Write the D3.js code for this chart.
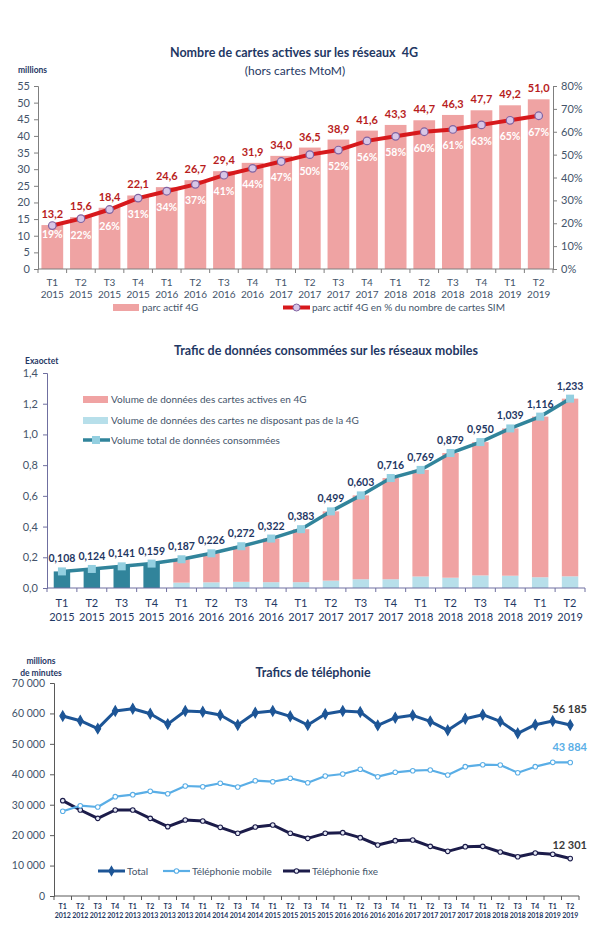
<!DOCTYPE html>
<html>
<head>
<meta charset="utf-8">
<script src="https://cdn.jsdelivr.net/npm/d3@7"></script>
<style>
  body { margin: 0; background: #fff; }
  svg text { font-family: Lato, "Open Sans", sans-serif; white-space: pre; }
</style>
</head>
<body>
<div class="container"></div>
<script>
// --- chart 1 : cartes 4G
var quarters1 = ["T1","T2","T3","T4","T1","T2","T3","T4","T1","T2","T3","T4","T1","T2","T3","T4","T1","T2"];
var years1 = ["2015","2015","2015","2015","2016","2016","2016","2016","2017","2017","2017","2017","2018","2018","2018","2018","2019","2019"];
var parc4g = [13.2,15.6,18.4,22.1,24.6,26.7,29.4,31.9,34.0,36.5,38.9,41.6,43.3,44.7,46.3,47.7,49.2,51.0];
var pct4g = [19,22,26,31,34,37,41,44,47,50,52,56,58,60,61,63,65,67];
var ticks1L = [0,5,10,15,20,25,30,35,40,45,50,55];
var ticks1R = [0,10,20,30,40,50,60,70,80];

// --- chart 2 : trafic de donnees
var total2 = [0.108,0.124,0.141,0.159,0.187,0.226,0.272,0.322,0.383,0.499,0.603,0.716,0.769,0.879,0.950,1.039,1.116,1.233];
var vol2015 = [0.108,0.124,0.141,0.159,null,null,null,null,null,null,null,null,null,null,null,null,null,null];
var volNon4g = [null,null,null,null,0.035,0.037,0.040,0.038,0.038,0.048,0.057,0.057,0.075,0.067,0.082,0.080,0.070,0.076];
var vol4g = [null,null,null,null,0.152,0.189,0.232,0.284,0.345,0.451,0.546,0.659,0.694,0.812,0.868,0.959,1.046,1.157];
var ticks2 = [0,0.2,0.4,0.6,0.8,1.0,1.2,1.4];

// --- chart 3 : telephonie
var quarters3 = [], years3 = [];
["2012","2013","2014","2015","2016","2017","2018","2019"].forEach(function(y){
  ["T1","T2","T3","T4"].forEach(function(q){ quarters3.push(q); years3.push(y); });
});
quarters3 = quarters3.slice(0,30); years3 = years3.slice(0,30);
var totalTel = [59150,57600,55000,60800,61550,59900,56500,60800,60570,59480,56200,60240,60800,59050,56200,59800,60800,60470,56070,58600,59380,57400,54450,58270,59580,57400,53470,56300,57510,56185];
var mobileTel = [27830,29680,29250,32640,33300,34400,33620,36150,35920,37040,35820,37890,37560,38680,37240,39440,40090,41640,39210,40650,41180,41410,39770,42500,43150,43050,40520,42500,43930,43884];
var fixeTel = [31330,28260,25520,28260,28260,25520,22790,24980,24650,22570,20600,22680,23330,20600,18950,20600,20810,19170,16760,18180,18400,16320,14680,16210,16320,14460,12920,14130,13700,12301];
var ticks3 = [0,10000,20000,30000,40000,50000,60000,70000];

var navy = "#1f3864", slate = "#44546a";
var fr = function(v, n){ return v.toFixed(n).replace(".", ","); };
var sp = function(v){ return d3.format(",")(v).replace(/,/g, " "); };

var svg = d3.select(".container").append("svg")
  .attr("width", 601)
  .attr("height", 935);

// ================= chart 1
var g1 = svg.append("g");
var idx1 = d3.range(parc4g.length);
var x1 = d3.scaleBand().domain(idx1).range([38, 553]);
var y1 = d3.scaleLinear().domain([0,55]).range([269, 86]);
var y1r = d3.scaleLinear().domain([0,80]).range([269, 86]);

g1.append("text").attr("x", 294).attr("y", 57).attr("text-anchor","middle")
  .attr("font-size", 12.5).attr("font-weight","bold").attr("fill", navy)
  .text("Nombre de cartes actives sur les réseaux\u00a0 4G");
g1.append("text").attr("x", 295).attr("y", 75).attr("text-anchor","middle")
  .attr("font-size", 12).attr("fill", navy).text("(hors cartes MtoM)");
g1.append("text").attr("x", 18).attr("y", 73).attr("font-size", 8.5)
  .attr("font-weight","bold").attr("fill", navy).text("millions");

var bw1 = x1.bandwidth()*0.76;
g1.selectAll("rect.bar").data(parc4g).enter().append("rect")
  .attr("class","bar")
  .attr("x", function(d,i){ return x1(i) + (x1.bandwidth()-bw1)/2; })
  .attr("width", bw1)
  .attr("y", function(d){ return y1(d); })
  .attr("height", function(d){ return y1(0) - y1(d); })
  .attr("fill", "#efa3a3");

// axes
var axL1 = g1.append("g").attr("transform","translate(38,0)")
  .call(d3.axisLeft(y1).tickValues(ticks1L).tickSize(4).tickPadding(4));
var axR1 = g1.append("g").attr("transform","translate(553,0)")
  .call(d3.axisRight(y1r).tickValues(ticks1R).tickSize(4).tickPadding(4).tickFormat(function(d){ return d + "%"; }));
[axL1, axR1].forEach(function(a){
  a.select(".domain").attr("stroke","#7f7f7f");
  a.selectAll(".tick line").attr("stroke","#7f7f7f");
  a.selectAll("text").attr("font-size", 11).attr("fill", slate).attr("font-family","Lato, sans-serif");
});
g1.append("line").attr("x1",38).attr("x2",553).attr("y1",269).attr("y2",269).attr("stroke","#7f7f7f");
g1.selectAll("line.xt").data(d3.range(parc4g.length+1)).enter().append("line")
  .attr("class","xt")
  .attr("x1", function(i){ return 38 + i*x1.step(); })
  .attr("x2", function(i){ return 38 + i*x1.step(); })
  .attr("y1", 269).attr("y2", 273).attr("stroke","#7f7f7f");
g1.selectAll("text.q").data(quarters1).enter().append("text")
  .attr("class","q").attr("text-anchor","middle").attr("font-size",10).attr("fill", slate)
  .attr("x", function(d,i){ return x1(i)+x1.bandwidth()/2; }).attr("y", 286).text(function(d){ return d; });
g1.selectAll("text.yr").data(years1).enter().append("text")
  .attr("class","yr").attr("text-anchor","middle").attr("font-size",10).attr("fill", slate)
  .attr("x", function(d,i){ return x1(i)+x1.bandwidth()/2; }).attr("y", 298).text(function(d){ return d; });

// value labels
g1.selectAll("text.val").data(parc4g).enter().append("text")
  .attr("class","val").attr("text-anchor","middle").attr("font-size",11).attr("font-weight","bold")
  .attr("fill","#b81d1d")
  .attr("x", function(d,i){ return x1(i)+x1.bandwidth()/2; })
  .attr("y", function(d){ return y1(d) - 7; })
  .text(function(d){ return fr(d,1); });

// line
var line1 = d3.line().x(function(d,i){ return x1(i)+x1.bandwidth()/2; }).y(function(d){ return y1r(d); });
g1.append("path").datum(pct4g).attr("d", line1).attr("fill","none")
  .attr("stroke","#d7191c").attr("stroke-width",4);
g1.selectAll("circle.pt").data(pct4g).enter().append("circle")
  .attr("class","pt").attr("r",3.8)
  .attr("cx", function(d,i){ return x1(i)+x1.bandwidth()/2; })
  .attr("cy", function(d){ return y1r(d); })
  .attr("fill","#d8c6e6").attr("stroke","#8064a2").attr("stroke-width",1.2);
g1.selectAll("text.pct").data(pct4g).enter().append("text")
  .attr("class","pct").attr("text-anchor","middle").attr("font-size",10.5).attr("font-weight","bold")
  .attr("fill","#fff")
  .attr("x", function(d,i){ return x1(i)+x1.bandwidth()/2; })
  .attr("y", function(d,i){ return y1r(d) + (i === 0 ? 12 : 20); })
  .text(function(d){ return d + "%"; });

// legend
g1.append("rect").attr("x",113).attr("y",304).attr("width",26).attr("height",7).attr("fill","#efa3a3");
g1.append("text").attr("x",142).attr("y",311).attr("font-size",10).attr("fill",slate).text("parc actif 4G");
g1.append("line").attr("x1",283).attr("x2",310).attr("y1",307.5).attr("y2",307.5).attr("stroke","#d7191c").attr("stroke-width",4);
g1.append("circle").attr("cx",296.5).attr("cy",307.5).attr("r",3.5).attr("fill","#d8c6e6").attr("stroke","#8064a2");
g1.append("text").attr("x",312).attr("y",311).attr("font-size",10).attr("fill",slate).text("parc actif 4G en % du nombre de cartes SIM");

// ================= chart 2
var g2 = svg.append("g");
var idx2 = d3.range(total2.length);
var x2 = d3.scaleBand().domain(idx2).range([47, 585]);
var y2 = d3.scaleLinear().domain([0,1.4]).range([588, 373]);
var bw2 = x2.bandwidth()*0.55;
var cx2 = function(i){ return x2(i)+x2.bandwidth()/2; };

g2.append("text").attr("x", 326).attr("y", 355).attr("text-anchor","middle")
  .attr("font-size", 12.5).attr("font-weight","bold").attr("fill", navy)
  .text("Trafic de données consommées sur les réseaux mobiles");
g2.append("text").attr("x", 25).attr("y", 364).attr("font-size", 8.5)
  .attr("font-weight","bold").attr("fill", navy).text("Exaoctet");

g2.selectAll("rect.b15").data(vol2015).enter().filter(function(d){ return d !== null; }).append("rect")
  .attr("class","b15")
  .attr("x", function(d,i){ return cx2(i) - bw2/2; }).attr("width", bw2)
  .attr("y", function(d){ return y2(d); }).attr("height", function(d){ return y2(0)-y2(d); })
  .attr("fill","#31849b");
idx2.forEach(function(i){
  if (volNon4g[i] === null) return;
  g2.append("rect").attr("x", cx2(i)-bw2/2).attr("width", bw2)
    .attr("y", y2(volNon4g[i])).attr("height", y2(0)-y2(volNon4g[i])).attr("fill","#b7dfea");
  g2.append("rect").attr("x", cx2(i)-bw2/2).attr("width", bw2)
    .attr("y", y2(volNon4g[i]+vol4g[i])).attr("height", y2(volNon4g[i])-y2(volNon4g[i]+vol4g[i])).attr("fill","#f0a3a3");
});

var axL2 = g2.append("g").attr("transform","translate(47,0)")
  .call(d3.axisLeft(y2).tickValues(ticks2).tickSize(4).tickPadding(5).tickFormat(function(d){ return fr(d,1); }));
axL2.select(".domain").attr("stroke","#6f6fa0");
axL2.selectAll(".tick line").attr("stroke","#6f6fa0");
axL2.selectAll("text").attr("font-size",11).attr("fill",slate).attr("font-family","Lato, sans-serif");
g2.append("line").attr("x1",47).attr("x2",585).attr("y1",588).attr("y2",588).attr("stroke","#6f6fa0");
g2.selectAll("line.xt").data(d3.range(total2.length+1)).enter().append("line")
  .attr("class","xt")
  .attr("x1", function(i){ return 47 + i*x2.step(); }).attr("x2", function(i){ return 47 + i*x2.step(); })
  .attr("y1",588).attr("y2",592).attr("stroke","#6f6fa0");
g2.selectAll("text.q").data(quarters1).enter().append("text")
  .attr("class","q").attr("text-anchor","middle").attr("font-size",11).attr("fill", navy)
  .attr("x", function(d,i){ return cx2(i); }).attr("y", 607).text(function(d){ return d; });
g2.selectAll("text.yr").data(years1).enter().append("text")
  .attr("class","yr").attr("text-anchor","middle").attr("font-size",11).attr("fill", navy)
  .attr("x", function(d,i){ return cx2(i); }).attr("y", 621).text(function(d){ return d; });

var line2 = d3.line().x(function(d,i){ return cx2(i); }).y(function(d){ return y2(d); });
g2.append("path").datum(total2).attr("d", line2).attr("fill","none")
  .attr("stroke","#31849b").attr("stroke-width",3.5);
g2.selectAll("rect.mk").data(total2).enter().append("rect")
  .attr("class","mk").attr("width",8).attr("height",8)
  .attr("x", function(d,i){ return cx2(i)-4; }).attr("y", function(d){ return y2(d)-4; })
  .attr("fill","#93cfe0");
g2.selectAll("text.val").data(total2).enter().append("text")
  .attr("class","val").attr("text-anchor","middle").attr("font-size",10.5).attr("font-weight","bold")
  .attr("fill", navy)
  .attr("x", function(d,i){ return cx2(i); })
  .attr("y", function(d){ return y2(d) - 9; })
  .text(function(d){ return fr(d,3); });

// legend
g2.append("rect").attr("x",83).attr("y",396).attr("width",25).attr("height",7).attr("fill","#f0a3a3");
g2.append("text").attr("x",111).attr("y",403).attr("font-size",10).attr("fill",slate).text("Volume de données des cartes actives en 4G");
g2.append("rect").attr("x",83).attr("y",417).attr("width",25).attr("height",7).attr("fill","#b7dfea");
g2.append("text").attr("x",111).attr("y",424).attr("font-size",10).attr("fill",slate).text("Volume de données des cartes ne disposant pas de la 4G");
g2.append("line").attr("x1",83).attr("x2",110).attr("y1",440).attr("y2",440).attr("stroke","#31849b").attr("stroke-width",3.5);
g2.append("rect").attr("x",92).attr("y",436).attr("width",8).attr("height",8).attr("fill","#93cfe0");
g2.append("text").attr("x",111).attr("y",444).attr("font-size",10).attr("fill",slate).text("Volume total de données consommées");

// ================= chart 3
var g3 = svg.append("g");
var idx3 = d3.range(totalTel.length);
var x3 = d3.scaleBand().domain(idx3).range([54, 579]);
var y3 = d3.scaleLinear().domain([0,70000]).range([896, 683]);
var cx3 = function(i){ return x3(i)+x3.bandwidth()/2; };

g3.append("text").attr("x", 313).attr("y", 677).attr("text-anchor","middle")
  .attr("font-size", 12.5).attr("font-weight","bold").attr("fill", navy)
  .text("Trafics de téléphonie");
g3.append("text").attr("x", 41).attr("y", 664).attr("text-anchor","middle").attr("font-size", 8.5)
  .attr("font-weight","bold").attr("fill", navy).text("millions");
g3.append("text").attr("x", 41).attr("y", 676).attr("text-anchor","middle").attr("font-size", 8.5)
  .attr("font-weight","bold").attr("fill", navy).text("de minutes");

var axL3 = g3.append("g").attr("transform","translate(54,0)")
  .call(d3.axisLeft(y3).tickValues(ticks3).tickSize(4).tickPadding(5).tickFormat(sp));
axL3.select(".domain").attr("stroke","#595959");
axL3.selectAll(".tick line").attr("stroke","#595959");
axL3.selectAll("text").attr("font-size",10.5).attr("fill",slate).attr("font-family","Lato, sans-serif");
g3.append("line").attr("x1",54).attr("x2",579).attr("y1",896).attr("y2",896).attr("stroke","#595959");
g3.selectAll("line.xt").data(d3.range(totalTel.length+1)).enter().append("line")
  .attr("class","xt")
  .attr("x1", function(i){ return 54 + i*x3.step(); }).attr("x2", function(i){ return 54 + i*x3.step(); })
  .attr("y1",896).attr("y2",900).attr("stroke","#595959");
g3.selectAll("text.q").data(quarters3).enter().append("text")
  .attr("class","q").attr("text-anchor","middle").attr("font-size",7).attr("font-weight","bold").attr("fill", navy)
  .attr("x", function(d,i){ return cx3(i); }).attr("y", 909).text(function(d){ return d; });
g3.selectAll("text.yr").data(years3).enter().append("text")
  .attr("class","yr").attr("text-anchor","middle").attr("font-size",7).attr("font-weight","bold").attr("fill", navy)
  .attr("x", function(d,i){ return cx3(i); }).attr("y", 918).text(function(d){ return d; });

var line3 = d3.line().x(function(d,i){ return cx3(i); }).y(function(d){ return y3(d); });
var series3 = [
  {vals: fixeTel, color: "#1c1c4a", w: 3, mk: "circle", fill: "#e4e8f4"},
  {vals: mobileTel, color: "#5aaee6", w: 2.2, mk: "circle", fill: "#ffffff"},
  {vals: totalTel, color: "#1d5596", w: 3, mk: "diamond", fill: "#1d5596"}
];
series3.forEach(function(s){
  g3.append("path").datum(s.vals).attr("d", line3).attr("fill","none")
    .attr("stroke", s.color).attr("stroke-width", s.w).attr("stroke-linejoin","round");
  var sym = d3.symbol().type(s.mk === "diamond" ? d3.symbolDiamond : d3.symbolCircle).size(s.mk === "diamond" ? 30 : 16);
  g3.selectAll(null).data(s.vals).enter().append("path")
    .attr("d", sym)
    .attr("transform", function(d,i){ return "translate(" + cx3(i) + "," + y3(d) + ")"; })
    .attr("fill", s.fill).attr("stroke", s.color).attr("stroke-width", 1.1);
});
var last = totalTel.length - 1;
g3.append("text").attr("x",587).attr("y", y3(totalTel[last]) - 12).attr("text-anchor","end")
  .attr("font-size",11).attr("font-weight","bold").attr("fill","#3a3a3a").text(sp(totalTel[last]));
g3.append("text").attr("x",587).attr("y", y3(mobileTel[last]) - 11).attr("text-anchor","end")
  .attr("font-size",11).attr("font-weight","bold").attr("fill","#5aaee6").text(sp(mobileTel[last]));
g3.append("text").attr("x",587).attr("y", y3(fixeTel[last]) - 10).attr("text-anchor","end")
  .attr("font-size",11).attr("font-weight","bold").attr("fill","#3a3a3a").text(sp(fixeTel[last]));

// legend
var leg3 = [
  {x: 98, label: "Total", s: series3[2]},
  {x: 163, label: "Téléphonie mobile", s: series3[1]},
  {x: 283, label: "Téléphonie fixe", s: series3[0]}
];
leg3.forEach(function(l){
  g3.append("line").attr("x1", l.x).attr("x2", l.x+27).attr("y1",871).attr("y2",871)
    .attr("stroke", l.s.color).attr("stroke-width", l.s.w);
  var sym = d3.symbol().type(l.s.mk === "diamond" ? d3.symbolDiamond : d3.symbolCircle).size(l.s.mk === "diamond" ? 24 : 16);
  g3.append("path").attr("d", sym).attr("transform","translate(" + (l.x+13.5) + ",871)")
    .attr("fill", l.s.fill).attr("stroke", l.s.color).attr("stroke-width",1.1);
  g3.append("text").attr("x", l.x+29).attr("y", 875).attr("font-size",10).attr("fill",slate).text(l.label);
});
</script>
</body>
</html>
